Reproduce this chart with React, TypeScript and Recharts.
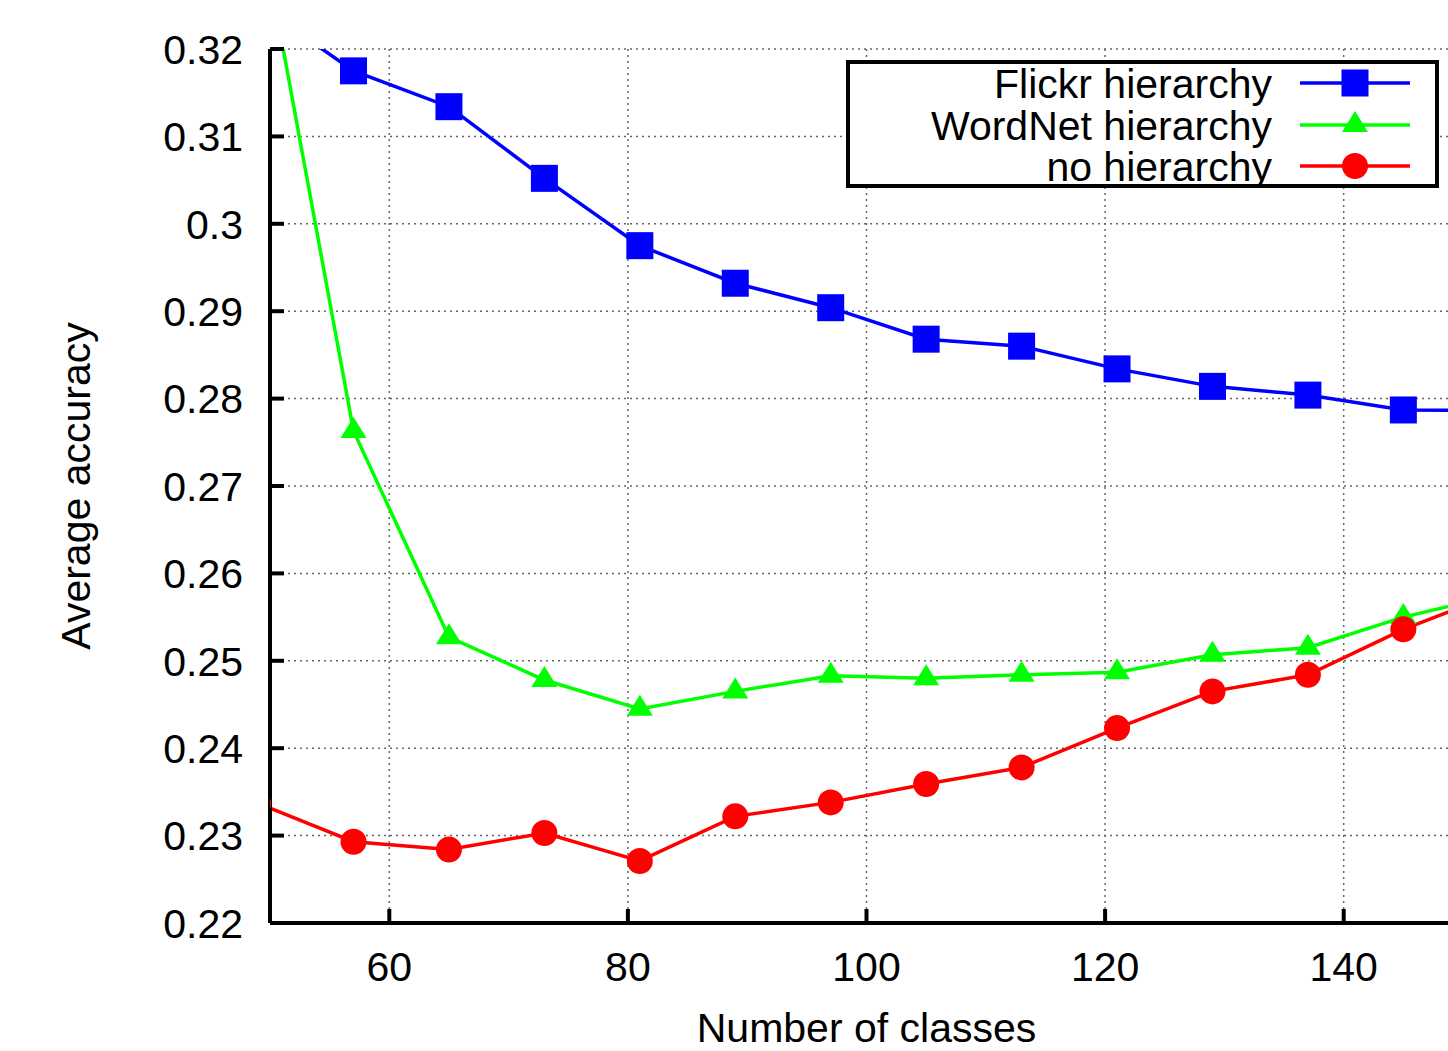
import React from 'react';
import { LineChart, Line, XAxis, YAxis, CartesianGrid, Legend, Label } from 'recharts';

const XS = [49, 57, 65, 73, 81, 89, 97, 105, 113, 121, 129, 137, 145, 153];
const FLICKR = [0.3251, 0.3175, 0.3134, 0.3052, 0.2975, 0.2932, 0.2904, 0.2868, 0.286, 0.2834, 0.2814, 0.2804, 0.2787, 0.2786];
const WORDNET = [0.3356, 0.2763, 0.2527, 0.2478, 0.2445, 0.2465, 0.2483, 0.248, 0.2484, 0.2487, 0.2507, 0.2515, 0.255, 0.2576];
const NOHIER = [0.2337, 0.2293, 0.2284, 0.2303, 0.2271, 0.2322, 0.2338, 0.2359, 0.2378, 0.2423, 0.2465, 0.2484, 0.2536, 0.2578];

const X_TICKS = [60, 80, 100, 120, 140];
const Y_TICKS = [0.22, 0.23, 0.24, 0.25, 0.26, 0.27, 0.28, 0.29, 0.3, 0.31, 0.32];

const SERIES = [
  { key: 'flickr', name: 'Flickr hierarchy', color: '#0000ff', shape: 'square' },
  { key: 'wordnet', name: 'WordNet hierarchy', color: '#00ff00', shape: 'triangle' },
  { key: 'none', name: 'no hierarchy', color: '#ff0000', shape: 'circle' },
];

const data = XS.map((x, i) => ({ x, flickr: FLICKR[i], wordnet: WORDNET[i], none: NOHIER[i] }));

const FONT = '"Liberation Sans", Arial, Helvetica, sans-serif';
const FS = 41;

function Marker({ shape, cx, cy, color }: any) {
  if (cx == null || cy == null || isNaN(cx) || isNaN(cy)) return null;
  if (shape === 'square') return <rect x={cx - 13.5} y={cy - 13.5} width={27} height={27} fill={color} />;
  if (shape === 'circle') return <circle cx={cx} cy={cy} r={13} fill={color} />;
  return <polygon points={`${cx},${cy - 14} ${cx - 13},${cy + 7} ${cx + 13},${cy + 7}`} fill={color} />;
}

const makeDot = (shape: string, color: string) => (props: any) => (
  <Marker key={`d-${shape}-${props.index}`} shape={shape} cx={props.cx} cy={props.cy} color={color} />
);

const fmtY = (v: number) => String(Number(v.toFixed(2)));

const LeftTick = (props: any) => {
  const { x, y, payload } = props;
  return (
    <g>
      <line x1={x} x2={x + 14} y1={y} y2={y} stroke="#000" strokeWidth={4} />
      <text x={x - 27} y={y} dy="0.36em" textAnchor="end" fontFamily={FONT} fontSize={FS} fill="#000" stroke="none">
        {fmtY(payload.value)}
      </text>
    </g>
  );
};

const BottomTick = (props: any) => {
  const { x, y, payload } = props;
  return (
    <g>
      <line x1={x} x2={x} y1={y} y2={y - 14} stroke="#000" strokeWidth={4} />
      <text x={x} y={y + 58} textAnchor="middle" fontFamily={FONT} fontSize={FS} fill="#000" stroke="none">
        {payload.value}
      </text>
    </g>
  );
};

const TopTick = (props: any) => {
  const { x, y } = props;
  return <line x1={x} x2={x} y1={y} y2={y + 14} stroke="#000" strokeWidth={4} />;
};

const LegendBox = () => {
  const rows = [21, 63, 104];
  return (
    <svg width={593} height={128} style={{ display: 'block' }}>
      <rect x={2} y={2} width={589} height={124} fill="#fff" stroke="#000" strokeWidth={4} />
      {SERIES.map((s, i) => (
        <g key={s.key}>
          <text x={426} y={rows[i] + 2} dy="0.36em" textAnchor="end" fontFamily={FONT} fontSize={FS} fill="#000">
            {s.name}
          </text>
          <line x1={454} x2={564} y1={rows[i] + 2} y2={rows[i] + 2} stroke={s.color} strokeWidth={3.5} />
          <Marker shape={s.shape} cx={509} cy={rows[i] + 2} color={s.color} />
        </g>
      ))}
    </svg>
  );
};

export default function App() {
  return (
    <div style={{ position: 'fixed', left: 8, top: 8, width: 1440, height: 1043, overflow: 'hidden', background: '#fff' }}>
      <LineChart width={1500} height={1043} data={data} margin={{ top: 41, right: 45, bottom: 0, left: 0 }}>
        <CartesianGrid stroke="#666" strokeDasharray="2 4" strokeWidth={1.5} />
        <XAxis
          dataKey="x"
          type="number"
          domain={[50, 150]}
          allowDataOverflow
          ticks={X_TICKS}
          interval={0}
          height={128}
          tickSize={0}
          tickMargin={0}
          tickLine={false}
          stroke="#000"
          strokeWidth={4}
          axisLine={{ stroke: '#000', strokeWidth: 4 }}
          tick={<BottomTick />}
        >
          <Label
            content={(p: any) => {
              const vb = p.viewBox || {};
              return (
                <text x={vb.x + vb.width / 2} y={vb.y + 119} textAnchor="middle" fontFamily={FONT} fontSize={FS} fill="#000" stroke="none">
                  Number of classes
                </text>
              );
            }}
          />
        </XAxis>
        <XAxis
          xAxisId="top"
          orientation="top"
          dataKey="x"
          type="number"
          domain={[50, 150]}
          allowDataOverflow
          ticks={X_TICKS}
          interval={0}
          height={0}
          tickSize={0}
          tickMargin={0}
          tickLine={false}
          stroke="#000"
          strokeWidth={4}
          axisLine={{ stroke: '#000', strokeWidth: 4 }}
          tick={<TopTick />}
        />
        <YAxis
          type="number"
          domain={[0.22, 0.32]}
          allowDataOverflow
          ticks={Y_TICKS}
          interval={0}
          width={262}
          tickSize={0}
          tickMargin={0}
          tickLine={false}
          stroke="#000"
          strokeWidth={4}
          axisLine={{ stroke: '#000', strokeWidth: 4 }}
          tick={<LeftTick />}
        >
          <Label
            content={(p: any) => {
              const vb = p.viewBox || {};
              const cx = vb.x + 67;
              const cy = vb.y + vb.height / 2;
              return (
                <text x={cx} y={cy} dy="0.36em" textAnchor="middle" transform={`rotate(-90 ${cx} ${cy})`} fontFamily={FONT} fontSize={FS} fill="#000" stroke="none">
                  Average accuracy
                </text>
              );
            }}
          />
        </YAxis>
        <Legend
          layout="horizontal"
          verticalAlign="middle"
          align="center"
          content={<LegendBox />}
          wrapperStyle={{ position: 'absolute', left: 838, top: 52, width: 593, height: 128 }}
        />
        {SERIES.map((s) => (
          <Line
            key={s.key}
            dataKey={s.key}
            name={s.name}
            type="linear"
            stroke={s.color}
            strokeWidth={3.5}
            dot={makeDot(s.shape, s.color)}
            activeDot={false}
            isAnimationActive={false}
          />
        ))}
      </LineChart>
    </div>
  );
}
